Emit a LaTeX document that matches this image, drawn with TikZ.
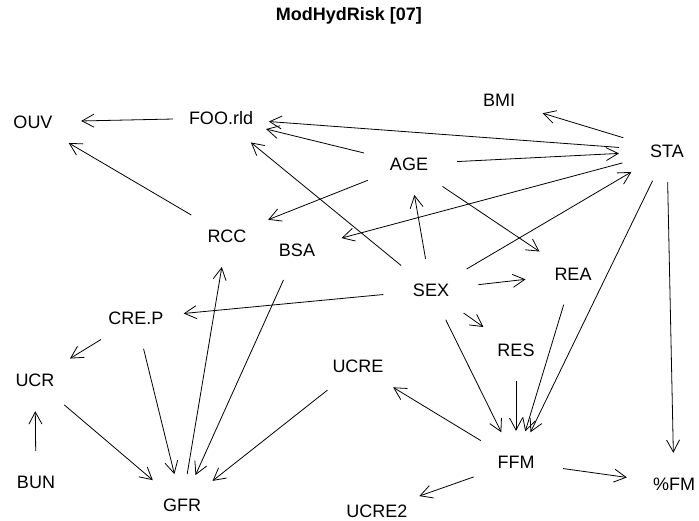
\documentclass[tikz,border=0pt]{standalone}
\usepackage{fontspec}
\setmainfont{Liberation Sans}
\usetikzlibrary{arrows.meta,shapes.geometric}
\begin{document}
\begin{tikzpicture}[x=1pt,y=-1pt,
  vtx/.style={ellipse,minimum width=96pt,minimum height=62pt,inner sep=0pt,
    font=\fontsize{18}{20}\selectfont},
  link/.style={line width=0.8pt,-{Straight Barb[length=12pt,width=13pt]}}]
\useasboundingbox (0,0) rectangle (699,521);
\node[font=\fontsize{18}{20}\selectfont\bfseries] (title) at (349,16) {ModHydRisk [07]};
% variables
\node[vtx] (OUV)   at (33,122)  {OUV};
\node[vtx] (FOO)   at (221,118) {FOO.rld};
\node[vtx] (BMI)   at (499,100) {BMI};
\node[vtx] (STA)   at (667,151) {STA};
\node[vtx] (AGE)   at (409,164) {AGE};
\node[vtx] (RCC)   at (227,236) {RCC};
\node[vtx] (BSA)   at (297,250) {BSA};
\node[vtx] (SEX)   at (431,290) {SEX};
\node[vtx] (REA)   at (573,274) {REA};
\node[vtx] (CREP)  at (136,318) {CRE.P};
\node[vtx] (UCR)   at (35,380)  {UCR};
\node[vtx] (UCRE)  at (358,366) {UCRE};
\node[vtx] (RES)   at (516,350) {RES};
\node[vtx] (BUN)   at (36,482)  {BUN};
\node[vtx] (GFR)   at (182,505) {GFR};
\node[vtx] (FFM)   at (516,462) {FFM};
\node[vtx] (PFM)   at (674,484) {\%FM};
\node[vtx] (UCRE2) at (377,511) {UCRE2};
% dependencies
\draw[link] (FOO) -- (OUV);
\draw[link] (RCC) -- (OUV);
\draw[link] (STA) -- (FOO);
\draw[link] (AGE) -- (FOO);
\draw[link] (SEX) -- (FOO);
\draw[link] (STA) -- (BMI);
\draw[link] (AGE) -- (STA);
\draw[link] (STA) -- (BSA);
\draw[link] (AGE) -- (RCC);
\draw[link] (AGE) -- (REA);
\draw[link] (SEX) -- (STA);
\draw[link] (SEX) -- (AGE);
\draw[link] (SEX) -- (REA);
\draw[link] (SEX) -- (RES);
\draw[link] (SEX) -- (CREP);
\draw[link] (SEX) -- (FFM);
\draw[link] (STA) -- (FFM);
\draw[link] (REA) -- (FFM);
\draw[link] (RES) -- (FFM);
\draw[link] (STA) -- (PFM);
\draw[link] (FFM) -- (PFM);
\draw[link] (FFM) -- (UCRE);
\draw[link] (FFM) -- (UCRE2);
\draw[link] (CREP) -- (UCR);
\draw[link] (CREP) -- (GFR);
\draw[link] (UCR) -- (GFR);
\draw[link] (BUN) -- (UCR);
\draw[link] (GFR) -- (RCC);
\draw[link] (BSA) -- (GFR);
\draw[link] (UCRE) -- (GFR);
\end{tikzpicture}
\end{document}
